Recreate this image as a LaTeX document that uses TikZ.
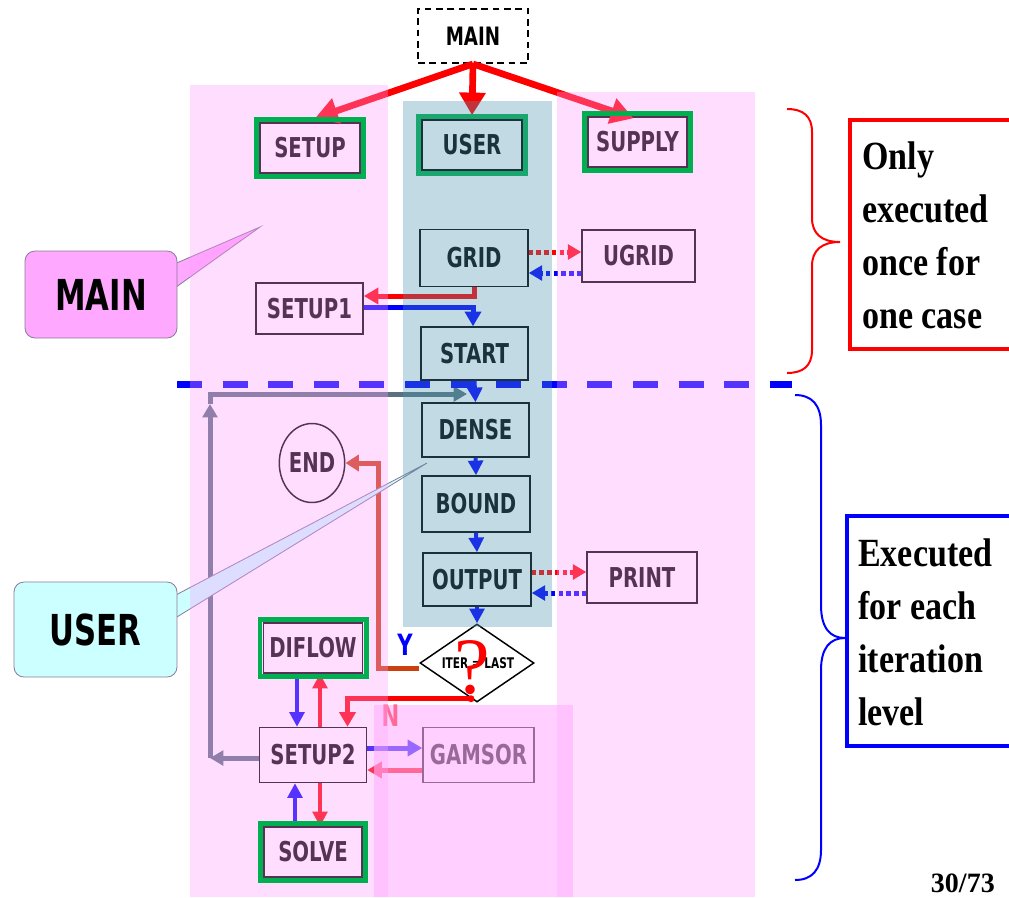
\documentclass[tikz,border=0pt]{standalone}
\usepackage{fontspec}
\usetikzlibrary{arrows.meta,shapes.geometric,calc}
\newfontfamily\bfnt{DejaVu Sans}[FakeStretch=0.72]
\newfontfamily\tfnt{Liberation Serif}[FakeStretch=0.85]
\newfontfamily\qfnt{Liberation Serif}
\definecolor{pinkov}{HTML}{FF99FF}
\definecolor{blueov}{HTML}{4C95AD}
\definecolor{pinkovb}{HTML}{FFB0FF}
\definecolor{grn}{HTML}{00B050}
\definecolor{loopc}{HTML}{587380}
\definecolor{endc}{HTML}{CC4010}
\definecolor{maincol}{HTML}{FFA8FF}
\definecolor{usercol}{HTML}{CCFFFF}
\definecolor{callb}{HTML}{8A7A9A}
\newcommand\bxfont{\bfnt\bfseries\fontsize{20.5}{24}\selectfont}
\begin{document}
\begin{tikzpicture}[x=0.75pt,y=-0.75pt,
  box/.style={draw=black,line width=1.1pt,inner sep=0pt,font=\bxfont,text=black},
  gfr/.style={draw=grn,line width=3.5pt},
  bigarr/.style={draw=red,line width=5pt,-{Triangle[length=17pt,width=19pt]}},
  redarr/.style={draw=red,line width=3.75pt,-{Triangle[length=11pt,width=12pt]}},
  bluarr/.style={draw=blue,line width=3pt,-{Triangle[length=11pt,width=11pt]}},
  bluarrb/.style={draw=blue,line width=3.75pt,-{Triangle[length=11pt,width=12pt]}},
  reddot/.style={draw=red,line width=3.75pt,dash pattern=on 3.4pt off 2.4pt,-{Triangle[length=10pt,width=11pt]}},
  bludot/.style={draw=blue,line width=3.75pt,dash pattern=on 3.4pt off 2.4pt,-{Triangle[length=10pt,width=11pt]}},
  loopln/.style={draw=loopc,line width=3.75pt},
  loopar/.style={-{Triangle[length=10pt,width=11pt]}},
  callbox/.style={draw=callb,line width=0.6pt,rounded corners=7.5pt,inner sep=0pt,font=\bfnt\bfseries\fontsize{32}{36}\selectfont,text=black},
  sidetxt/.style={anchor=north west,inner sep=0pt,align=left,font=\tfnt\bfseries\fontsize{30}{39.75}\selectfont}
]
\clip (0,0) rectangle (1009,897);
\fill[white] (0,0) rectangle (1009,897);

% ---------- nodes ----------
\node[box,draw=black,dashed,dash pattern=on 5pt off 3.5pt,line width=1.4pt,minimum width=82.5pt,minimum height=40.5pt,font=\bfnt\bfseries\fontsize{19}{22}\selectfont] (main) at (473,36) {MAIN};
\node[box,minimum width=75pt,minimum height=37.5pt] (setup) at (310,148) {SETUP};
\node[box,minimum width=75pt,minimum height=37.5pt] (user) at (472,145) {USER};
\node[box,minimum width=74.25pt,minimum height=37.5pt] (supply) at (637.5,142) {SUPPLY};
\node[box,minimum width=81pt,minimum height=42.75pt] (grid) at (474,258) {GRID};
\node[box,minimum width=84.75pt,minimum height=39pt] (ugrid) at (638.5,256) {UGRID};
\node[box,minimum width=80.25pt,minimum height=38.25pt] (setup1) at (309.5,308.5) {SETUP1};
\node[box,minimum width=80.25pt,minimum height=39.75pt] (start) at (474.5,353.5) {START};
\node[box,minimum width=80.25pt,minimum height=40.5pt] (dense) at (475.5,430) {DENSE};
\node[box,minimum width=81pt,minimum height=42pt] (bound) at (476,504) {BOUND};
\node[box,minimum width=81pt,minimum height=39.75pt] (output) at (477,579.5) {OUTPUT};
\node[box,minimum width=82.5pt,minimum height=38.25pt] (print) at (642,577.5) {PRINT};
\node[box,ellipse,minimum width=44.25pt,minimum height=59.25pt] (endn) at (312,463) {END};
\node[draw=black,line width=1.1pt,diamond,minimum width=85.5pt,minimum height=58.5pt,inner sep=0pt] (dia) at (477,663) {};
\node[inner sep=0pt,font=\bfnt\bfseries\fontsize{11}{13}\selectfont] (iter) at (478,663) {ITER = LAST};
\node[inner sep=0pt,text=red,font=\qfnt\fontsize{60}{66}\selectfont] (qm) at (472,668) {?};
\node[box,minimum width=74.25pt,minimum height=37.5pt] (diflow) at (313,648) {DIFLOW};
\node[box,minimum width=80.25pt,minimum height=41.25pt] (setup2) at (313,755) {SETUP2};
\node[box,minimum width=83.25pt,minimum height=41.25pt] (gamsor) at (478.5,755) {GAMSOR};
\node[box,minimum width=73.5pt,minimum height=37.5pt] (solve) at (313,852) {SOLVE};
\node[inner sep=0pt,text=blue,font=\bfnt\bfseries\fontsize{22}{26}\selectfont] (ylab) at (405,645) {Y};
\node[inner sep=0pt,text=red,font=\bfnt\bfseries\fontsize{22}{26}\selectfont] (nlab) at (390.5,716) {N};

% ---------- connectors ----------
\draw[bigarr] (main.south) -- ($(setup.north)+(5,-4)$);
\draw[bigarr] (main.south) -- ($(user.north)+(0,-4)$);
\draw[bigarr] (main.south) -- ($(supply.north)+(-4,2)$);

\draw[reddot] ($(grid.east)+(0,-6)$) -- ($(ugrid.west)+(0,-4)$);
\draw[bludot] ($(ugrid.west)+(0,17)$) -- ($(grid.east)+(0,15)$);
\draw[redarr] (grid.south) |- ($(setup1.east)+(0,-12.5)$);
\draw[bluarrb] ($(setup1.east)+(0,-1.5)$) -| ($(start.north)+(-1.5,0)$);

\draw[bluarr] (start.south) -- (dense.north);
\draw[bluarr] (dense.south) -- (bound.north);
\draw[bluarr] (bound.south) -- (output.north);
\draw[bluarr] (output.south) -- (dia.north);
\draw[reddot] ($(output.east)+(0,-7.5)$) -- ($(print.west)+(0,-5.5)$);
\draw[bludot] ($(print.west)+(0,15.5)$) -- ($(output.east)+(0,13.5)$);

\draw[endc,line width=3.75pt,-{Triangle[length=10pt,width=12pt]}] ($(dia.west)+(0,5)$) -- ++(-41,0) |- (endn.east);
\draw[red,line width=3.75pt,-{Triangle[length=11pt,width=12pt]}] ($(dia.south)+(-6,-4)$) -| ($(setup2.north)+(34.5,0)$);
\fill[red] ($(dia.south)+(-6,-4)$) circle (2.6pt);

\draw[bluarr] ([xshift=-12pt]diflow.south) -- ([xshift=-12pt]setup2.north);
\draw[redarr,line width=3pt,-{Triangle[length=11pt,width=11pt]}] ([xshift=5.25pt]setup2.north) -- ([xshift=5.25pt]diflow.south);
\draw[bluarr] ([xshift=-13.5pt]solve.north) -- ([xshift=-13.5pt]setup2.south);
\draw[redarr,line width=3pt,-{Triangle[length=11pt,width=11pt]}] ([xshift=5.25pt]setup2.south) -- ([xshift=5.25pt]solve.north);
\draw[bluarrb] ($(setup2.east)+(0,-7)$) -- ($(gamsor.west)+(0,-7)$);
\draw[redarr] ($(gamsor.west)+(0,15)$) -- ($(setup2.east)+(0,15)$);

\coordinate (lc) at (210,758);
\coordinate (lup) at (210,404);
\coordinate (ltop) at (210,394);
\coordinate (loopend) at (467,394);
\draw[loopln,loopar] ($(setup2.west)+(0,3)$) -- (lc);
\draw[loopln,loopar] (lc) -- (lup);
\draw[loopln,loopar] (lup) -- (ltop) -- (loopend);

% dashed separator
\draw[blue,line width=5.25pt,dash pattern=on 18.75pt off 15.45pt] (177,384) -- (792,384);

% ---------- callouts ----------
\fill[maincol,draw=callb,line width=0.6pt] (172,265) -- (260,227) -- (172,290) -- cycle;
\node[callbox,fill=maincol,minimum width=114pt,minimum height=65.25pt] (mainc) at (101,294.5) {MAIN};
\fill[usercol,draw=callb,line width=0.6pt] (172,597) -- (427,463) -- (172,620) -- cycle;
\node[callbox,fill=usercol,minimum width=122.25pt,minimum height=71.25pt] (userc) at (95.5,629.5) {USER};

% ---------- overlays ----------
\fill[pinkov,fill opacity=0.333] (190,85) rectangle (388,897);
\fill[pinkov,fill opacity=0.333] (557,92) rectangle (755,897);
\foreach \n in {setup,supply,diflow,solve}
  \draw[gfr] ([shift={(-2.2pt,2.2pt)}]\n.north west) rectangle ([shift={(2.2pt,-2.2pt)}]\n.south east);
\draw[gfr] ([shift={(-2.2pt,2.2pt)}]user.north west) rectangle ([shift={(2.2pt,-2.2pt)}]user.south east);
\fill[blueov,fill opacity=0.34] (403,101) rectangle (552,627);
\fill[pinkovb,fill opacity=0.6] (374,705) rectangle (573,897);

% ---------- right side ----------
\draw[red,line width=1.5pt] (787,109) .. controls (803,109) and (812,116) .. (812,132) -- (812,218) .. controls (812,234) and (822,242) .. (840,242) .. controls (822,242) and (812,250) .. (812,266) -- (812,350) .. controls (812,366) and (803,373) .. (787,373);
\draw[red,line width=3pt] (850,120) rectangle (1020,349);
\node[sidetxt] (t1) at (862,141) {Only\\executed\\once for\\one case};

\draw[blue,line width=1.5pt] (795,395) .. controls (812,395) and (821,405) .. (821,425) -- (821,605) .. controls (821,628) and (830,638) .. (845,638) .. controls (830,638) and (821,648) .. (821,670) -- (821,850) .. controls (821,870) and (812,880) .. (795,880);
\draw[blue,line width=3pt] (847,516) rectangle (1020,746);
\node[sidetxt] (t2) at (858,538) {Executed\\for each\\iteration\\level};

\node[anchor=base east,inner sep=0pt,font=\qfnt\bfseries\fontsize{21}{25}\selectfont] (pg) at (995,892) {30/73};
\end{tikzpicture}
\end{document}
